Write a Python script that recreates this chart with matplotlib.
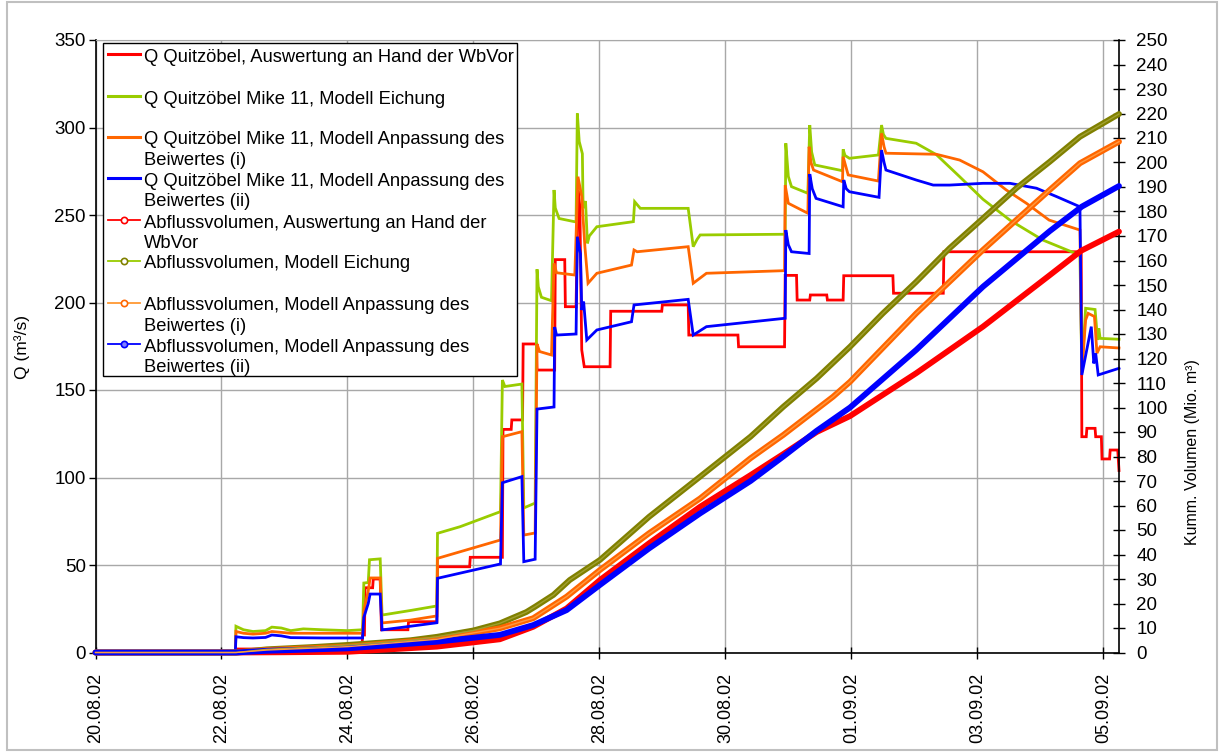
import numpy as np
import pandas as pd
import matplotlib
matplotlib.use("Agg")
import matplotlib.pyplot as plt
import matplotlib.dates as mdates
from matplotlib.lines import Line2D
from matplotlib.patches import Rectangle

plt.rcParams['font.family'] = ['Liberation Sans', 'DejaVu Sans']

# ---------------------------------------------------------------- data
# time in days after 20.08.2002 00:00, discharge Q in m³/s
START = pd.Timestamp("2002-08-20")

t_wbvor = [0, 2.23, 2.25, 4.23, 4.24, 4.27, 4.28, 4.40, 4.41, 4.52, 4.54, 4.96, 4.97,
           5.42, 5.43, 5.94, 5.95, 6.46, 6.47, 6.60, 6.61, 6.78, 6.79, 7.00, 7.01,
           7.29, 7.30, 7.45, 7.46, 7.63, 7.66, 7.69, 7.72, 7.76, 8.17, 8.18, 8.99, 9.00,
           9.41, 9.42, 10.20, 10.21, 10.94, 10.95, 11.13, 11.14, 11.34, 11.35, 11.61,
           11.62, 11.87, 11.88, 12.66, 12.67, 13.46, 13.47, 15.65, 15.66, 15.73, 15.74,
           15.87, 15.88, 15.97, 15.98, 16.10, 16.11, 16.23, 16.25]
q_wbvor = [0, 0, 2, 2, 10, 10, 37, 37, 42, 42, 13, 13, 17.6,
           17.6, 49, 49, 54.4, 54.4, 127.5, 127.5, 132.9, 132.9, 176.3, 176.3, 161.4,
           161.4, 224.5, 224.5, 197.6, 197.6, 264, 255, 172.9, 163.3, 163.3, 195, 195, 198.6,
           198.6, 181.4, 181.4, 174.7, 174.7, 215.5, 215.5, 201.4, 201.4, 204.3, 204.3,
           201.4, 201.4, 215.3, 215.3, 205.3, 205.3, 229, 229, 123.3, 123.3, 128.1,
           128.1, 123.3, 123.3, 110.6, 110.6, 115.7, 115.7, 104]

t_eich = [0, 2.22, 2.23, 2.35, 2.5, 2.7, 2.8, 2.95, 3.1, 3.3, 3.6, 4.0, 4.24, 4.26, 4.33,
          4.35, 4.52, 4.55, 5.0, 5.42, 5.43, 5.79, 6.43, 6.46, 6.5, 6.77, 6.80, 6.98, 7.01,
          7.03, 7.08, 7.24, 7.28, 7.30, 7.36, 7.63, 7.65, 7.68, 7.73, 7.74, 7.76, 7.78,
          7.81, 7.84, 7.96, 8.54, 8.56, 8.65, 9.41, 9.49, 9.55, 9.6, 10.95, 10.96, 11.0,
          11.05, 11.31, 11.34, 11.37, 11.42, 11.86, 11.87, 11.9, 11.97, 12.43, 12.48, 12.51,
          12.55, 13.03, 13.35, 13.72, 14.09, 14.52, 15.04, 15.63, 15.66, 15.72, 15.87,
          15.91, 15.93, 15.95, 16.25]
q_eich = [0, 0, 15, 13, 12, 12.5, 14.5, 14, 12.5, 13.5, 13, 12.5, 13, 39.7, 40,
          53, 53.5, 21.4, 24, 26.6, 68.1, 71.9, 80.5, 155.7, 152, 153.4, 82.6, 85.4, 219,
          209, 203, 201, 264.3, 254, 248, 246, 308, 292, 285, 258, 254, 258,
          233.8, 238, 243.3, 246.2, 257.6, 253.8, 253.8, 231.9, 236, 238.6, 239, 291, 272,
          266.2, 262.4, 301.4, 286, 278.6, 275.3, 287.5, 284, 282.4, 284.3, 301.4, 296,
          293.8, 291, 284.5, 271.9, 259, 247, 235.7, 227, 160, 196.7, 196,
          178.6, 185.2, 179.5, 179]

t_anp1 = [0, 2.22, 2.23, 2.35, 2.5, 2.7, 2.8, 2.95, 3.1, 3.6, 4.24, 4.26, 4.33, 4.36,
          4.52, 4.55, 5.0, 5.42, 5.43, 6.43, 6.46, 6.77, 6.80, 6.98, 7.01, 7.05, 7.24, 7.28,
          7.32, 7.61, 7.66, 7.72, 7.77, 7.82, 7.96, 8.51, 8.55, 8.6, 9.41, 9.49, 9.7, 10.94,
          10.95, 11.0, 11.31, 11.33, 11.36, 11.4, 11.86, 11.87, 11.95, 12.43, 12.48, 12.52,
          12.55, 13.35, 13.72, 14.09, 14.46, 14.78, 15.14, 15.63, 15.66, 15.72, 15.76,
          15.86, 15.9, 15.95, 16.25]
q_anp1 = [0, 0, 12, 11, 10.5, 11, 12, 11.5, 11, 11, 11, 24, 35, 42.6,
          42.6, 16.9, 18.5, 20.9, 53.8, 64.3, 123.3, 126.2, 67.1, 68.3, 176.3, 172, 170, 222.4,
          217, 215.7, 271.9, 260.5, 231.9, 211, 216.7, 221.4, 230, 229, 231.9, 211, 216.7, 218.2,
          267.1, 256.7, 251, 289, 280, 275.7, 269, 283.3, 272.9, 269.4, 296.7, 289,
          285.3, 284.7, 281.4, 274.7, 264.3, 256.7, 247.1, 241.4, 160, 190, 193.8,
          192, 171, 174.7, 174]

t_anp2 = [0, 2.22, 2.23, 2.35, 2.5, 2.7, 2.8, 2.95, 3.1, 3.6, 4.24, 4.26, 4.33, 4.36,
          4.52, 4.55, 5.0, 5.42, 5.43, 6.43, 6.46, 6.77, 6.80, 6.98, 7.01, 7.28, 7.29, 7.32,
          7.63, 7.65, 7.7, 7.72, 7.75, 7.8, 7.96, 8.51, 8.55, 9.41, 9.49, 9.7, 10.95, 10.96,
          11.0, 11.05, 11.33, 11.34, 11.38, 11.44, 11.87, 11.88, 11.92, 11.97, 12.44, 12.48,
          12.52, 12.55, 13.03, 13.3, 13.56, 14.09, 14.52, 14.94, 15.26, 15.63, 15.66, 15.81,
          15.85, 15.88, 15.92, 16.25]
q_anp2 = [0, 0, 9, 8.5, 8.3, 8.6, 10, 9.5, 8.5, 8.3, 8.3, 20, 28, 33.4,
          33.4, 12.9, 15, 17, 42.4, 50.6, 97, 100.5, 51.9, 53.3, 139.1, 140.3, 186, 181.4,
          182, 237.6, 228, 195.7, 200.5, 178.6, 184.3, 189, 198.6, 201.8, 181.4, 186.2, 191, 241.4,
          233, 229, 228, 273.4, 265, 259.5, 254.7, 270, 265, 263.3, 260.1, 287.1,
          280, 275.7, 270, 267.1, 267.1, 268.1, 268.1, 265.3, 260.5, 254.7, 158.6, 186.2,
          165.2, 171, 158.6, 162.4]

# cumulative discharge volume in Mio. m³
tv_wbvor = [0, 2.23, 3.0, 4.01, 5.42, 6.42, 6.95, 7.48, 8.01, 8.79, 9.6, 10.4, 10.92,
            11.45, 11.98, 13.03, 14.09, 15.15, 15.65, 16.25]
v_wbvor = [0, 0, 0.1, 0.3, 2.4, 5.4, 10.5, 18, 29.6, 44.6, 59.5, 72.4, 81,
           90, 96.5, 114, 133, 154, 164, 171.8]

tv_eich = [0, 2.23, 2.72, 3.5, 4.01, 4.5, 5.0, 5.42, 6.0, 6.42, 6.84, 6.98, 7.27, 7.53,
           8.01, 8.33, 8.79, 9.6, 10.4, 10.92, 11.45, 11.98, 12.5, 13.03, 13.56, 14.09,
           14.62, 15.15, 15.63, 16.25]
v_eich = [0, 0, 1.3, 2.3, 3.1, 4.0, 5.0, 6.4, 9.0, 11.9, 16.5, 18.7, 23.5, 29.6,
          37.8, 45.0, 55.4, 71.8, 88.1, 100.3, 111.9, 124.8, 138.4, 151.3, 165.0, 177.2,
          189.5, 200.3, 210.5, 219.8]

tv_anp1 = [0, 2.23, 2.72, 4.01, 5.42, 6.42, 6.95, 7.48, 8.01, 8.79, 9.6, 10.4, 10.92,
           11.71, 11.98, 13.03, 14.09, 15.15, 15.63, 16.25]
v_anp1 = [0, 0, 1.0, 2.4, 5.4, 9.9, 14.0, 22.8, 33.7, 48.7, 62.9, 79.3, 88.8,
          104.4, 110.5, 138.4, 164.3, 188.8, 199.7, 208.5]

tv_anp2 = [0, 2.23, 2.72, 4.01, 5.42, 6.42, 6.95, 7.48, 8.01, 8.79, 9.6, 10.4, 10.92,
           11.45, 11.98, 13.03, 14.09, 15.15, 15.66, 16.25]
v_anp2 = [0, 0, 0.7, 1.7, 4.4, 7.2, 11.2, 17.3, 27.6, 42.5, 56.8, 70.0, 80,
          90.5, 100, 123.5, 149.3, 172, 182, 190.4]

labels = [
    "Q Quitzöbel, Auswertung an Hand der WbVor",
    "Q Quitzöbel Mike 11, Modell Eichung",
    "Q Quitzöbel Mike 11, Modell Anpassung des\nBeiwertes (i)",
    "Q Quitzöbel Mike 11, Modell Anpassung des\nBeiwertes (ii)",
    "Abflussvolumen, Auswertung an Hand der\nWbVor",
    "Abflussvolumen, Modell Eichung",
    "Abflussvolumen, Modell Anpassung des\nBeiwertes (i)",
    "Abflussvolumen, Modell Anpassung des\nBeiwertes (ii)",
]

date_ticks = ["20.08.02", "22.08.02", "24.08.02", "26.08.02", "28.08.02",
              "30.08.02", "01.09.02", "03.09.02", "05.09.02"]


def to_num(days):
    return mdates.date2num(START + pd.to_timedelta(np.asarray(days, float), unit="D"))


# ---------------------------------------------------------------- figure
W, H = 1223, 755
fig = plt.figure(figsize=(W / 100, H / 100), dpi=100)
fig.patch.set_facecolor("white")


def fx(px):
    return px / W


def fy(py):
    return 1 - py / H


ax = fig.add_axes([fx(95.5), fy(652.5), fx(1119) - fx(95.5), fy(40) - fy(652.5)])
ax2 = ax.twinx()

RED, GREEN, ORANGE, BLUE, OLIVE = "#FF0000", "#99CC00", "#FF6600", "#0000FF", "#808000"

q_series = [(t_wbvor, q_wbvor, RED), (t_eich, q_eich, GREEN),
            (t_anp1, q_anp1, ORANGE), (t_anp2, q_anp2, BLUE)]
for t, q, c in q_series:
    ax.plot(to_num(t), q, color=c, lw=2.0, solid_joinstyle="miter", clip_on=False, zorder=3)

v_series = [(tv_wbvor, v_wbvor, RED, None), (tv_eich, v_eich, OLIVE, "#A0A030"),
            (tv_anp1, v_anp1, ORANGE, "#FF9A40"), (tv_anp2, v_anp2, BLUE, None)]
for t, v, c, inner in v_series:
    ax2.plot(to_num(t), v, color=c, lw=4.2, solid_capstyle="round", clip_on=False, zorder=3)
    if inner:
        ax2.plot(to_num(t), v, color=inner, lw=1.0, clip_on=False, zorder=4)

# axes limits and ticks
ax.set_xlim(to_num([0])[0], to_num([16.25])[0])
ax.set_ylim(0, 350)
ax2.set_ylim(0, 250)
ax.set_yticks(np.arange(0, 351, 50))
ax2.set_yticks(np.arange(0, 251, 10))
tick_pos = to_num(np.arange(0, 17, 2))
ax.set_xticks(tick_pos)
ax.set_xticklabels(date_ticks, rotation=90, fontsize=13)
ax.tick_params(axis="y", direction="out", length=5, width=1, labelsize=13.5, pad=2)
ax.tick_params(axis="x", direction="inout", length=9, width=1, pad=10)
ax2.tick_params(axis="y", direction="inout", length=9, width=1, labelsize=13.5, pad=8)

ax.grid(True, color="#a8a8a8", lw=1.0)
ax.set_axisbelow(True)
ax.spines["top"].set_color("#a8a8a8")
ax.spines["right"].set_visible(False)
ax.spines["left"].set_linewidth(1.2)
ax.spines["bottom"].set_linewidth(1.2)
for s in ("left", "top", "bottom"):
    ax2.spines[s].set_visible(False)
ax2.spines["right"].set_linewidth(1.2)

fig.text(fx(22), fy(347), "Q (m³/s)", rotation=90, ha="center", va="center", fontsize=12.5)
fig.text(fx(1193), fy(452), "Kumm. Volumen (Mio. m³)", rotation=90, ha="center",
         va="center", fontsize=11.5)

# ---------------------------------------------------------------- legend
fig.add_artist(Rectangle((fx(103), fy(376)), fx(517) - fx(103), fy(43) - fy(376),
                         transform=fig.transFigure, facecolor="white",
                         edgecolor="black", lw=1.0))
handle_y = [54, 96, 137, 178, 220, 261, 303, 344]
handles = [
    dict(color=RED, lw=2.2), dict(color=GREEN, lw=2.2),
    dict(color=ORANGE, lw=2.2), dict(color=BLUE, lw=2.2),
    dict(color=RED, lw=1.3, marker="o", mec=RED, mfc="white"),
    dict(color=GREEN, lw=1.3, marker="o", mec=OLIVE, mfc="white"),
    dict(color="#FF9933", lw=1.3, marker="o", mec=ORANGE, mfc="white"),
    dict(color=BLUE, lw=1.3, marker="o", mec=BLUE, mfc="#8080ff"),
]
for hy, lab, style in zip(handle_y, labels, handles):
    style = dict(style)
    marker = style.pop("marker", None)
    mec = style.pop("mec", None)
    mfc = style.pop("mfc", None)
    fig.add_artist(Line2D([fx(108), fx(140)], [fy(hy), fy(hy)],
                          transform=fig.transFigure, **style))
    if marker:
        fig.add_artist(Line2D([fx(124)], [fy(hy)], transform=fig.transFigure,
                              marker="o", ms=4.5, mec=mec, mfc=mfc, mew=1.2, lw=0))
    for i, line in enumerate(lab.split("\n")):
        fig.text(fx(144), fy(hy + 7.5 + 20.5 * i), line, fontsize=13.2,
                 ha="left", va="baseline")

# chart frame
fig.add_artist(Rectangle((fx(7), fy(750)), fx(1217) - fx(7), fy(2) - fy(750),
                         transform=fig.transFigure, facecolor="none",
                         edgecolor="#c0c0c0", lw=1.5))

fig.savefig("out.png", dpi=100)
